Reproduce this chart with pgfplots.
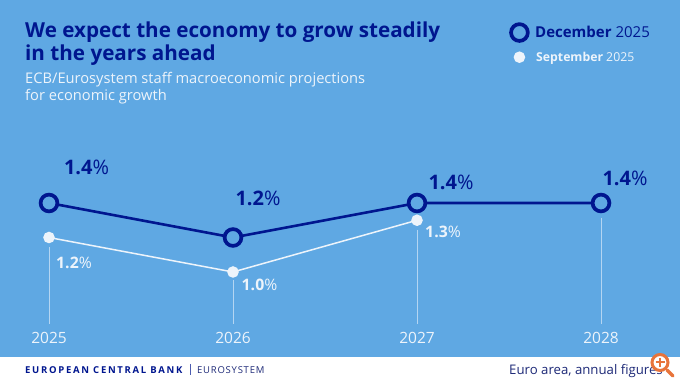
\documentclass[border=0pt]{standalone}
\usepackage{pgfplots}
\pgfplotsset{compat=1.18}
\usepackage{fontspec}
\setmainfont{Open Sans}
\definecolor{bg}{HTML}{5FA8E3}
\definecolor{navy}{HTML}{00168F}
\definecolor{soft}{HTML}{EDF4FB}
\definecolor{drop}{HTML}{B4D5F2}
\definecolor{foot}{HTML}{1E2A78}
\definecolor{zoomc}{HTML}{E8743B}
\def\P(#1,#2){({#1*1pt},{(325-#2)*1pt})}
\newcommand{\fs}[1]{\fontsize{#1}{#1}\selectfont}
\begin{document}
\begin{tikzpicture}
\path[use as bounding box] (0,-57pt) rectangle (680pt,325pt);
\fill[white] (0,-57pt) rectangle (680pt,325pt);
\fill[bg] (0,-32pt) rectangle (680pt,325pt);
\begin{axis}[
  at={(0,0)}, anchor=south west,
  width=680pt, height=325pt, scale only axis,
  xmin=2024.7337, xmax=2028.4293,
  ymin=0.69275, ymax=2.5768,
  axis line style={draw=none},
  ytick=\empty,
  xtick={2025,2026,2027,2028},
  xticklabels={2025,2026,2027,2028},
  major tick length=0pt,
  xticklabel style={text=soft, font=\fs{15.5}, yshift=-3.5pt},
  clip=false,
  legend style={at={(0.7485,0.932)}, anchor=north west, draw=none, fill=none,
    legend cell align=left, row sep=7pt, inner sep=0pt, column sep=0pt},
]
% drop lines
\addplot[forget plot, drop, line width=0.9pt] coordinates {(2025,1.145)(2025,0.70)};
\addplot[forget plot, drop, line width=0.9pt] coordinates {(2026,0.955)(2026,0.70)};
\addplot[forget plot, drop, line width=0.9pt] coordinates {(2027,1.245)(2027,0.70)};
\addplot[forget plot, drop, line width=0.9pt] coordinates {(2028,1.315)(2028,0.70)};
% December
\addplot[navy, line width=2.6pt, mark=*,
  mark options={draw=navy, fill=bg, line width=3.7pt, solid},
  mark size=8.4pt,
  legend image code/.code={\draw[navy, fill=bg, line width=3.7pt] (0.42cm,0) circle (8.4pt);}]
  coordinates {(2025,1.4)(2026,1.2)(2027,1.4)(2028,1.4)};
\addlegendentry{\hspace*{3.5pt}\textcolor{navy}{\fs{15}\textbf{December} 2025}}
% September
\addplot[soft, line width=1.5pt, mark=*,
  mark options={draw=none, fill=soft, solid},
  mark size=5pt,
  legend image code/.code={\fill[soft] (0.42cm,0) circle (5pt);}]
  coordinates {(2025,1.2)(2026,1.0)(2027,1.3)};
\addlegendentry{\hspace*{4.5pt}\textcolor{soft}{\fs{12.25}\textbf{September} 2025}}
\end{axis}
% titles
\node[anchor=base west, inner sep=0pt, text=navy, font=\fs{20.65}\bfseries] at \P(25,38) {We expect the economy to grow steadily};
\node[anchor=base west, inner sep=0pt, text=navy, font=\fs{20.65}\bfseries] at \P(25,61) {in the years ahead};
\node[anchor=base west, inner sep=0pt, text=soft, font=\fs{14.67}] at \P(25,84) {ECB/Eurosystem staff macroeconomic projections};
\node[anchor=base west, inner sep=0pt, text=soft, font=\fs{14.67}] at \P(25,101) {for economic growth};
% value labels
\node[text=navy, font=\fs{20}, inner sep=0pt] at \P(86.5,167) {\textbf{1.4}\%};
\node[text=navy, font=\fs{20}, inner sep=0pt] at \P(258,198) {\textbf{1.2}\%};
\node[text=navy, font=\fs{20}, inner sep=0pt] at \P(451,182) {\textbf{1.4}\%};
\node[text=navy, font=\fs{20}, inner sep=0pt] at \P(625,178) {\textbf{1.4}\%};
\node[text=soft, font=\fs{15.8}, inner sep=0pt] at \P(74,263) {\textbf{1.2}\%};
\node[text=soft, font=\fs{15.8}, inner sep=0pt] at \P(259.5,285) {\textbf{1.0}\%};
\node[text=soft, font=\fs{15.8}, inner sep=0pt] at \P(443,232) {\textbf{1.3}\%};
% footer
\node[anchor=base west, inner sep=0pt, text=navy, font=\fs{9.5}\bfseries] at \P(25,374) {\addfontfeature{LetterSpace=18}EUROPEAN CENTRAL BANK};
\draw[navy!70!white, line width=0.6pt] \P(190.5,364) -- \P(190.5,375);
\node[anchor=base west, inner sep=0pt, text=foot, font=\fs{9.5}] at \P(197,374) {\addfontfeature{LetterSpace=8}EUROSYSTEM};
\node[anchor=base west, inner sep=0pt, text=foot, font=\fs{13.2}] at \P(509,375) {Euro area, annual figures};
% zoom icon
\fill[white] \P(660,362.5) circle (8pt);
\draw[zoomc, line width=3pt] \P(660,362.5) circle (8pt);
\draw[zoomc, line width=3.4pt, line cap=round] \P(667,370) -- \P(673,376);
\draw[zoomc, line width=2pt] \P(655.5,362.5) -- \P(664.5,362.5);
\draw[zoomc, line width=2pt] \P(660,358) -- \P(660,367);
\end{tikzpicture}
\end{document}
